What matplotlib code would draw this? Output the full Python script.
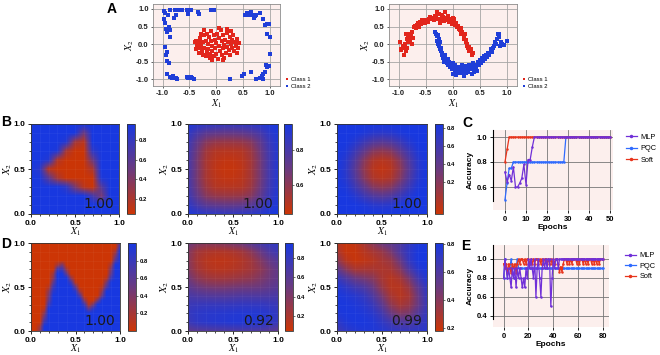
import numpy as np
import matplotlib
matplotlib.use('Agg')
import matplotlib.pyplot as plt
from matplotlib.colors import LinearSegmentedColormap, Normalize
from matplotlib.cm import ScalarMappable
from matplotlib.lines import Line2D
from matplotlib.ticker import MultipleLocator, FormatStrFormatter

plt.rcParams['font.family'] = ['Liberation Sans', 'DejaVu Sans']
plt.rcParams['mathtext.fontset'] = 'stix'
plt.rcParams['axes.unicode_minus'] = False

# ---------------- data ----------------
a1_class1 = [(-0.40, 0.05), (-0.38, 0.08), (-0.36, 0.03), (-0.35, -0.05), (-0.33, 0.10), (-0.30, -0.12),
             (-0.30, 0.18), (-0.28, 0.00), (-0.27, -0.20), (-0.25, 0.05), (-0.25, -0.30), (-0.23, 0.25),
             (-0.22, -0.10), (-0.20, 0.10), (-0.20, -0.35), (-0.18, -0.22), (-0.17, 0.30), (-0.15, 0.00),
             (-0.15, -0.15), (-0.13, 0.20), (-0.12, -0.28), (-0.12, -0.40), (-0.10, 0.38), (-0.10, 0.08),
             (-0.08, -0.05), (-0.07, -0.20), (-0.05, 0.25), (-0.05, -0.35), (-0.03, 0.12), (-0.02, -0.12),
             (0.00, 0.02), (0.00, -0.28), (0.02, 0.30), (0.03, -0.42), (0.05, 0.18), (0.05, -0.05),
             (0.07, -0.20), (0.08, 0.40), (0.10, 0.08), (0.10, -0.32), (0.12, -0.12), (0.13, 0.25),
             (0.15, -0.02), (0.15, -0.40), (0.17, 0.12), (0.18, -0.25), (0.20, 0.32), (0.20, -0.08),
             (0.22, 0.05), (0.23, -0.18), (0.25, 0.20), (0.26, -0.30), (0.28, 0.00), (0.30, 0.12),
             (0.30, -0.10), (0.32, 0.25), (0.33, -0.20), (0.35, 0.05), (0.36, -0.05), (0.38, 0.15),
             (0.40, -0.12), (0.42, 0.02), (-0.32, -0.25), (-0.22, 0.40), (0.05, 0.45), (0.20, 0.42),
             (0.28, 0.38), (-0.08, -0.45), (0.12, -0.46), (-0.38, -0.15), (0.38, -0.25), (-0.28, 0.30)]
a1_class2 = [(-0.97, 0.94), (-0.90, 0.84), (-0.86, 0.98), (-0.78, 0.75), (-0.75, 0.82), (-0.72, 0.96),
             (-0.69, 0.98), (-0.64, 0.96), (-0.55, 0.96), (-0.53, 0.86), (-0.48, 0.98), (-0.34, 0.91),
             (-0.33, 0.86), (-0.10, 0.96), (-0.06, 0.98), (-0.04, 0.98), (0.54, 0.82), (0.57, 0.88),
             (0.62, 0.84), (0.65, 0.91), (0.67, 0.82), (0.70, 0.75), (0.72, 0.79), (0.75, 0.82),
             (0.82, 0.88), (0.87, 0.72), (0.91, 0.53), (0.94, 0.56), (0.98, 0.58), (-0.97, 0.72),
             (-0.95, 0.60), (-0.93, 0.44), (-0.92, 0.34), (-0.88, 0.50), (-0.86, 0.39), (-0.87, 0.20),
             (-0.95, -0.09), (-0.92, -0.23), (-0.91, -0.48), (-0.88, -0.54), (-0.91, -0.84), (-0.86, -0.94),
             (-0.83, -0.96), (-0.80, -0.92), (-0.76, -0.97), (-0.73, -0.99), (-0.55, -0.94), (-0.52, -0.96),
             (-0.48, -0.94), (-0.45, -0.96), (-0.41, -1.00), (0.25, -1.00), (0.48, -0.92), (0.52, -0.84),
             (0.65, -0.80), (0.75, -0.99), (0.81, -0.96), (0.85, -0.92), (0.88, -0.99), (0.91, -0.80),
             (0.94, -0.65), (0.98, -0.61), (1.00, -0.27), (1.00, 0.20), (0.94, 0.29), (0.93, -0.58),
             (-0.77, 0.97), (-0.96, 0.88), (0.88, -0.84), (-0.93, -0.30)]
a2_class1 = [(-0.97, 0.05), (-0.96, -0.18), (-0.95, -0.15), (-0.93, -0.05), (-0.90, -0.30), (-0.90, -0.10),
             (-0.88, 0.00), (-0.87, -0.20), (-0.86, 0.30), (-0.85, 0.15), (-0.84, -0.12), (-0.83, 0.25),
             (-0.82, 0.05), (-0.80, 0.20), (-0.80, 0.28), (-0.79, 0.12), (-0.78, 0.30), (-0.77, 0.22),
             (-0.76, 0.00), (-0.75, 0.35), (-0.73, 0.18), (-0.72, 0.48), (-0.70, 0.52), (-0.68, 0.45),
             (-0.66, 0.55), (-0.64, 0.60), (-0.62, 0.50), (-0.60, 0.62), (-0.58, 0.58), (-0.55, 0.65),
             (-0.52, 0.60), (-0.50, 0.68), (-0.48, 0.66), (-0.46, 0.62), (-0.44, 0.72), (-0.42, 0.78),
             (-0.40, 0.70), (-0.38, 0.75), (-0.35, 0.68), (-0.33, 0.80), (-0.31, 0.78), (-0.29, 0.92),
             (-0.27, 0.72), (-0.25, 0.85), (-0.22, 0.70), (-0.20, 0.82), (-0.18, 0.78), (-0.16, 0.65),
             (-0.14, 0.75), (-0.12, 0.72), (-0.10, 0.68), (-0.08, 0.80), (-0.06, 0.62), (-0.04, 0.70),
             (-0.02, 0.58), (0.00, 0.66), (0.02, 0.70), (0.04, 0.55), (0.06, 0.60), (0.08, 0.48),
             (0.10, 0.52), (0.12, 0.42), (0.14, 0.40), (0.16, 0.30), (0.18, 0.35), (0.20, 0.22),
             (0.21, 0.15), (0.22, 0.28), (0.24, 0.05), (0.25, 0.12), (0.26, -0.05), (0.27, 0.00),
             (0.28, -0.12), (0.30, -0.08), (0.31, -0.20), (0.33, -0.15), (0.35, -0.30), (0.37, -0.25),
             (-0.57, 0.68), (-0.24, 0.60), (-0.15, 0.90), (0.00, 0.75), (0.15, 0.45)]
a2_class2 = [(-0.33, 0.35), (-0.31, 0.30), (-0.30, 0.22), (-0.29, 0.10), (-0.28, 0.25), (-0.27, 0.00),
             (-0.26, 0.15), (-0.25, -0.05), (-0.24, -0.15), (-0.23, 0.05), (-0.22, -0.20), (-0.21, -0.10),
             (-0.20, -0.30), (-0.19, -0.25), (-0.18, -0.40), (-0.17, -0.35), (-0.15, -0.45), (-0.14, -0.30),
             (-0.12, -0.50), (-0.10, -0.55), (-0.09, -0.42), (-0.08, -0.60), (-0.06, -0.52), (-0.05, -0.65),
             (-0.03, -0.58), (-0.02, -0.70), (0.00, -0.62), (0.01, -0.85), (0.02, -0.68), (0.04, -0.75),
             (0.05, -0.60), (0.06, -0.88), (0.08, -0.70), (0.10, -0.78), (0.12, -0.65), (0.13, -0.82),
             (0.15, -0.72), (0.17, -0.60), (0.18, -0.80), (0.20, -0.70), (0.22, -0.75), (0.24, -0.62),
             (0.25, -0.82), (0.27, -0.68), (0.28, -0.78), (0.30, -0.60), (0.32, -0.72), (0.34, -0.65),
             (0.35, -0.85), (0.37, -0.55), (0.38, -0.70), (0.40, -0.78), (0.42, -0.60), (0.44, -0.68),
             (0.46, -0.50), (0.48, -0.60), (0.50, -0.45), (0.52, -0.55), (0.54, -0.40), (0.56, -0.48),
             (0.58, -0.35), (0.60, -0.42), (0.62, -0.30), (0.64, -0.38), (0.66, -0.25), (0.68, -0.32),
             (0.70, -0.15), (0.72, -0.22), (0.74, -0.10), (0.76, -0.05), (0.78, 0.05), (0.80, 0.00),
             (0.82, 0.15), (0.84, 0.28), (0.85, 0.30), (0.86, 0.20), (0.88, -0.05), (0.90, 0.05),
             (0.92, 0.00), (0.95, -0.02), (1.00, 0.10), (-0.16, -0.50), (0.00, -0.55), (0.20, -0.90),
             (0.45, -0.75)]

# decision maps, rows from X2 = 1.0 (top) to 0.0 (bottom), columns X1 = 0.0 .. 1.0
b1_map = [
    [.97, .97, .97, .97, .97, .97, .97, .97, .97, .97, .97],
    [.97, .97, .97, .97, .97, .97, .50, .97, .97, .97, .97],
    [.97, .97, .97, .97, .90, .25, .13, .97, .97, .97, .97],
    [.97, .97, .97, .93, .22, .05, .05, .83, .97, .97, .97],
    [.97, .97, .90, .18, .05, .05, .05, .50, .97, .97, .97],
    [.97, .87, .15, .05, .05, .05, .05, .20, .97, .97, .97],
    [.97, .95, .60, .22, .05, .05, .05, .05, .93, .97, .97],
    [.97, .97, .97, .97, .85, .45, .13, .05, .62, .97, .97],
    [.97, .97, .97, .97, .97, .97, .97, .73, .45, .97, .97],
    [.97, .97, .97, .97, .97, .97, .97, .97, .97, .97, .97],
    [.97, .97, .97, .97, .97, .97, .97, .97, .97, .97, .97]]
b2_map = [
    [.93, .90, .88, .87, .86, .86, .87, .88, .90, .93, .95],
    [.88, .80, .74, .72, .71, .71, .72, .75, .80, .88, .93],
    [.84, .72, .62, .58, .57, .57, .58, .62, .72, .84, .92],
    [.82, .68, .55, .50, .49, .49, .50, .56, .68, .82, .91],
    [.81, .66, .53, .48, .46, .46, .48, .54, .66, .81, .91],
    [.81, .66, .53, .47, .45, .45, .47, .54, .66, .81, .91],
    [.81, .66, .53, .48, .46, .46, .48, .54, .66, .81, .91],
    [.82, .68, .56, .50, .49, .49, .50, .56, .68, .82, .91],
    [.84, .72, .62, .58, .57, .57, .58, .62, .72, .84, .92],
    [.88, .80, .74, .72, .71, .71, .72, .75, .80, .88, .93],
    [.93, .90, .88, .87, .86, .86, .87, .88, .90, .93, .95]]
b3_map = [
    [.84, .84, .84, .84, .84, .84, .84, .84, .84, .84, .84],
    [.84, .84, .84, .80, .74, .72, .74, .80, .84, .84, .84],
    [.84, .84, .76, .62, .50, .45, .50, .62, .76, .84, .84],
    [.84, .80, .62, .41, .21, .15, .21, .41, .62, .80, .84],
    [.84, .74, .50, .21, .00, -.05, .00, .21, .50, .74, .84],
    [.84, .72, .45, .15, -.05, -.10, -.05, .15, .45, .72, .84],
    [.84, .74, .50, .21, .00, -.05, .00, .21, .50, .74, .84],
    [.84, .80, .62, .41, .21, .15, .21, .41, .62, .80, .84],
    [.84, .84, .76, .62, .50, .45, .50, .62, .76, .84, .84],
    [.84, .84, .84, .80, .74, .72, .74, .80, .84, .84, .84],
    [.84, .84, .84, .84, .84, .84, .84, .84, .84, .84, .84]]
# D1 on a finer 0.05 grid, digit 0 = red class ... 9 = blue class
d1_rows = [
    "000000000000000000005",
    "000000000000000000007",
    "000000000000000000029",
    "000000000000000000049",
    "000000000000000000069",
    "000000240000000000299",
    "000000772000000000499",
    "000002995000000000599",
    "000003999300000001799",
    "000005999710000004999",
    "000017999950000016999",
    "000038999982000039999",
    "000049999996000059999",
    "000059999999300499999",
    "000079999999714999999",
    "000199999999958999999",
    "000399999999999999999",
    "000599999999999999999",
    "000799999999999999999",
    "002999999999999999999",
    "003999999999999999999"]
d2_map = [
    [.50, .42, .38, .38, .40, .45, .50, .60, .70, .78, .82],
    [.40, .25, .20, .18, .18, .20, .25, .35, .50, .65, .75],
    [.38, .22, .15, .12, .12, .14, .18, .25, .38, .52, .62],
    [.40, .25, .18, .15, .15, .17, .20, .25, .33, .45, .55],
    [.48, .35, .28, .25, .25, .27, .30, .33, .40, .48, .55],
    [.58, .50, .45, .43, .43, .45, .47, .48, .50, .55, .60],
    [.68, .65, .63, .62, .62, .63, .65, .65, .65, .66, .68],
    [.75, .77, .78, .78, .78, .79, .80, .80, .80, .78, .76],
    [.78, .83, .85, .86, .87, .88, .89, .89, .88, .85, .80],
    [.75, .82, .85, .87, .88, .90, .90, .90, .88, .84, .78],
    [.55, .60, .62, .64, .65, .66, .67, .66, .64, .60, .55]]
d3_map = [
    [.25, .20, .22, .30, .40, .50, .55, .60, .70, .78, .80],
    [.30, .20, .20, .25, .30, .35, .45, .60, .72, .80, .81],
    [.40, .25, .20, .22, .25, .30, .35, .50, .70, .80, .81],
    [.55, .40, .30, .30, .30, .28, .30, .40, .60, .75, .80],
    [.70, .60, .50, .45, .40, .30, .25, .30, .45, .65, .78],
    [.78, .72, .65, .60, .50, .35, .25, .25, .35, .55, .72],
    [.80, .78, .75, .70, .60, .45, .30, .25, .30, .50, .70],
    [.80, .80, .78, .75, .68, .55, .38, .30, .35, .50, .68],
    [.78, .80, .80, .78, .74, .65, .50, .42, .45, .58, .70],
    [.72, .78, .80, .80, .78, .72, .65, .60, .60, .66, .72],
    [.65, .72, .76, .78, .78, .76, .72, .70, .70, .72, .74]]
map_accuracy = ["1.00", "1.00", "1.00", "1.00", "0.92", "0.99"]

# training curves
c_epochs = list(range(51))
c_mlp = [0.72, 0.64, 0.70, 0.65, 0.76, 0.60, 0.60, 0.63, 0.67, 0.78, 0.62, 0.82, 0.82, 0.92,
         1.0, 1.0, 1.0, 1.0, 1.0, 1.0, 1.0, 1.0, 1.0, 1.0, 1.0, 1.0, 1.0, 1.0, 1.0, 1.0,
         1.0, 1.0, 1.0, 1.0, 1.0, 1.0, 1.0, 1.0, 1.0, 1.0, 1.0, 1.0, 1.0, 1.0, 1.0, 1.0,
         1.0, 1.0, 1.0, 1.0, 1.0]
c_pqc = [0.50, 0.63, 0.75, 0.75,
         0.8, 0.8, 0.8, 0.8, 0.8, 0.8, 0.8, 0.8, 0.8, 0.8, 0.8, 0.8, 0.8, 0.8, 0.8, 0.8,
         0.8, 0.8, 0.8, 0.8, 0.8, 0.8, 0.8, 0.8, 0.8,
         1.0, 1.0, 1.0, 1.0, 1.0, 1.0, 1.0, 1.0, 1.0, 1.0, 1.0, 1.0, 1.0, 1.0, 1.0, 1.0,
         1.0, 1.0, 1.0, 1.0, 1.0, 1.0]
c_soft = [0.80, 0.90,
          1.0, 1.0, 1.0, 1.0, 1.0, 1.0, 1.0, 1.0, 1.0, 1.0, 1.0, 1.0, 1.0, 1.0, 1.0, 1.0,
          1.0, 1.0, 1.0, 1.0, 1.0, 1.0, 1.0, 1.0, 1.0, 1.0, 1.0, 1.0, 1.0, 1.0, 1.0, 1.0,
          1.0, 1.0, 1.0, 1.0, 1.0, 1.0, 1.0, 1.0, 1.0, 1.0, 1.0, 1.0, 1.0, 1.0, 1.0, 1.0, 1.0]
e_epochs = list(range(81))
e_mlp = [0.8, 1.0, 0.9, 0.8, 0.9, 0.8, 0.7, 0.9, 0.8, 0.9, 0.7, 0.9, 0.8, 0.9, 0.8, 0.7,
         0.8, 0.7, 0.9, 0.8, 1.0, 0.9, 1.0, 0.9, 0.8, 1.0, 0.6, 0.9, 1.0, 0.8, 0.6, 0.9,
         1.0, 0.9, 1.0, 0.9, 1.0, 1.0, 0.5, 0.8, 1.0, 0.9, 1.0, 1.0, 0.9,
         1.0, 1.0, 1.0, 1.0, 1.0, 1.0, 1.0, 1.0, 1.0, 1.0, 1.0, 1.0, 1.0, 1.0, 1.0, 1.0,
         1.0, 1.0, 1.0, 1.0, 1.0, 1.0, 1.0, 1.0, 1.0, 1.0, 1.0, 1.0, 1.0, 1.0, 1.0, 1.0,
         1.0, 1.0, 1.0, 1.0]
e_pqc = [0.8, 1.0, 0.9, 0.8, 0.9, 0.9, 1.0, 0.9, 0.8, 0.9, 0.9, 1.0,
         0.9, 0.9, 0.9, 0.9, 0.9, 0.9, 0.9, 0.9, 0.9, 0.9, 0.9, 0.9, 0.9, 0.9, 0.9, 0.9,
         0.9, 0.9, 0.9, 0.9, 0.9, 0.9, 0.9, 0.9, 0.9, 0.9, 0.9, 0.9, 0.9, 0.9, 0.9, 0.9,
         0.9, 0.9, 0.9, 0.9, 0.9, 0.9, 0.9, 0.9, 0.9, 0.9, 0.9, 0.9, 0.9, 0.9, 0.9, 0.9,
         0.9, 0.9, 0.9, 0.9, 0.9, 0.9, 0.9, 0.9, 0.9, 0.9, 0.9, 0.9, 0.9, 0.9, 0.9, 0.9,
         0.9, 0.9, 0.9, 0.9, 0.9]
e_soft = [0.95, 0.90, 0.95, 0.85, 0.95, 0.90, 0.85, 0.95, 0.90, 0.95, 0.85, 0.95, 1.0, 0.95,
          1.0, 1.0, 0.95, 1.0, 0.95, 1.0, 1.0, 0.95, 1.0, 0.95, 1.0, 0.95, 1.0, 1.0, 0.95,
          1.0, 0.95, 1.0, 0.95, 1.0, 1.0, 0.95, 1.0, 0.95, 1.0, 0.95, 1.0, 0.95, 1.0, 1.0,
          0.95, 0.86, 0.92, 0.86, 0.95, 1.0, 1.0, 0.95, 1.0, 0.95, 1.0, 0.95, 1.0, 1.0, 1.0,
          0.95, 1.0, 0.95, 1.0, 1.0, 0.95, 1.0, 0.95, 1.0, 0.95, 1.0, 1.0, 0.95, 1.0, 0.95,
          1.0, 0.95, 1.0, 0.95, 1.0, 1.0, 1.0]
series_names = ["MLP", "PQC", "Soft"]

# ---------------- style ----------------
PINK = '#fcefed'
RED = '#e2261c'
BLUE = '#1f3ed8'
LINE_COLORS = {'MLP': '#7030d8', 'PQC': '#2f6bff', 'Soft': '#e8341c'}
CMAP = LinearSegmentedColormap.from_list('rb', ['#cc3505', '#6a3a80', '#1838e0'])

W, H = 660, 355
fig = plt.figure(figsize=(6.6, 3.55), dpi=100)


def rect(x0, y0, x1, y1):
    return [x0 / W, 1 - y1 / H, (x1 - x0) / W, (y1 - y0) / H]


def bold_ticks(ax, size):
    for lab in ax.get_xticklabels() + ax.get_yticklabels():
        lab.set_fontweight('bold')
        lab.set_fontsize(size)


def scatter_panel(box, c1, c2):
    ax = fig.add_axes(rect(*box))
    ax.set_facecolor(PINK)
    p1 = np.array(c1).T
    p2 = np.array(c2).T
    ax.scatter(p1[0], p1[1], s=6, c=RED, marker='s', lw=0, label='Class 1', zorder=3)
    ax.scatter(p2[0], p2[1], s=6, c=BLUE, marker='s', lw=0, label='Class 2', zorder=3)
    ax.set_xlim(-1.18, 1.19)
    ax.set_ylim(-1.19, 1.14)
    t = [-1.0, -0.5, 0.0, 0.5, 1.0]
    ax.set_xticks(t)
    ax.set_yticks(t)
    ax.xaxis.set_major_formatter(FormatStrFormatter('%.1f'))
    ax.yaxis.set_major_formatter(FormatStrFormatter('%.1f'))
    ax.grid(color='#a5a5a5', lw=0.6)
    ax.set_axisbelow(True)
    for s in ax.spines.values():
        s.set_color('#8c8c8c')
        s.set_linewidth(0.6)
    ax.tick_params(length=1.5, width=0.5, pad=1.5, colors='#222222')
    bold_ticks(ax, 5.5)
    ax.set_xlabel('$X_1$', fontsize=7, labelpad=0)
    ax.set_ylabel('$X_2$', fontsize=7, labelpad=0)
    ax.legend(loc='lower left', bbox_to_anchor=(1.01, -0.06), fontsize=4.2, frameon=False,
              handletextpad=0.2, handlelength=1.0, labelspacing=0.3, borderaxespad=0,
              markerscale=0.8)
    return ax


def heat_panel(box, cbox, grid, vmin, vmax, cticks, acc):
    ax = fig.add_axes(rect(*box))
    g = np.array(grid, dtype=float)
    n = g.shape[0]
    h = 0.5 / (n - 1)
    norm = Normalize(vmin, vmax)
    ax.imshow(g, cmap=CMAP, norm=norm, origin='upper', extent=[-h, 1 + h, -h, 1 + h],
              interpolation='bilinear', aspect='auto')
    ax.set_xlim(0, 1)
    ax.set_ylim(0, 1)
    ax.set_xticks([0, 0.5, 1.0])
    ax.set_yticks([0, 0.5, 1.0])
    ax.xaxis.set_minor_locator(MultipleLocator(0.1))
    ax.yaxis.set_minor_locator(MultipleLocator(0.1))
    ax.xaxis.set_major_formatter(FormatStrFormatter('%.1f'))
    ax.yaxis.set_major_formatter(FormatStrFormatter('%.1f'))
    ax.grid(which='both', color='white', alpha=0.05, lw=0.5)
    ax.tick_params(which='major', length=2.5, width=0.6, pad=1.5)
    ax.tick_params(which='minor', length=1.5, width=0.5)
    for s in ax.spines.values():
        s.set_linewidth(0.6)
        s.set_color('#333333')
    bold_ticks(ax, 6)
    ax.set_xlabel('$X_1$', fontsize=7, labelpad=-0.5)
    ax.set_ylabel('$X_2$', fontsize=7.5, labelpad=0)
    ax.text(0.95, 0.07, acc, transform=ax.transAxes, ha='right', va='baseline',
            fontsize=10, color='#1a1a1a', family='DejaVu Sans')
    cax = fig.add_axes(rect(*cbox))
    cb = fig.colorbar(ScalarMappable(norm=norm, cmap=CMAP), cax=cax, ticks=cticks)
    cb.outline.set_linewidth(0.6)
    cb.outline.set_edgecolor('#333333')
    cax.tick_params(length=1.5, width=0.4, pad=1)
    for lab in cax.get_yticklabels():
        lab.set_fontsize(4.2)
        lab.set_fontweight('bold')
    return ax


def acc_panel(box, epochs, data, xlim, ylim, xticks, yticks, ybound, leg_anchor, spacing):
    ax = fig.add_axes(rect(*box))
    ax.set_facecolor(PINK)
    ep = np.array(epochs)
    for name, z in (("PQC", 2), ("Soft", 3), ("MLP", 4)):
        ax.plot(ep, data[name], color=LINE_COLORS[name], lw=0.9, marker='o', ms=0.8, zorder=z)
    ax.set_xlim(*xlim)
    ax.set_ylim(*ylim)
    ax.set_xticks(xticks)
    ax.set_yticks(yticks)
    ax.yaxis.set_major_formatter(FormatStrFormatter('%.1f'))
    ax.grid(color='#777777', lw=0.6)
    ax.set_axisbelow(True)
    for k in ('top', 'right', 'bottom'):
        ax.spines[k].set_visible(False)
    ax.spines['left'].set_bounds(*ybound)
    ax.spines['left'].set_linewidth(0.8)
    ax.tick_params(length=2.5, width=0.6, pad=1.5)
    bold_ticks(ax, 5.5)
    ax.set_xlabel('Epochs', fontsize=6, fontweight='bold', labelpad=1)
    ax.set_ylabel('Accuracy', fontsize=6, fontweight='bold', labelpad=2)
    handles = [Line2D([], [], color=LINE_COLORS[n], lw=0.9, marker='o', ms=1.5) for n in series_names]
    ax.legend(handles, series_names, loc='upper left', bbox_to_anchor=leg_anchor, fontsize=5.3,
              frameon=False, handlelength=1.5, handletextpad=0.5, labelspacing=spacing,
              borderaxespad=0)
    return ax


# ---------------- panels ----------------
scatter_panel((153, 4, 280, 86), a1_class1, a1_class2)
scatter_panel((389, 4, 517, 86), a2_class1, a2_class2)

heat_panel((31, 124, 119, 214), (127, 124, 135, 214), b1_map, 0.04, 0.97, [0.2, 0.4, 0.6, 0.8], map_accuracy[0])
heat_panel((188, 124, 278, 214), (284, 124, 292, 214), b2_map, 0.43, 0.95, [0.6, 0.8], map_accuracy[1])
heat_panel((337, 124, 427, 214), (435, 124, 443, 214), b3_map, -0.16, 0.84, [0.2, 0.4, 0.6, 0.8], map_accuracy[2])

d1_map = [[int(ch) / 9 for ch in row] for row in d1_rows]
heat_panel((31, 243, 120, 331), (128, 243, 136, 331), d1_map, 0.0, 1.0, [0.2, 0.4, 0.6, 0.8], map_accuracy[3])
heat_panel((188, 243, 278, 331), (285, 243, 293, 331), d2_map, 0.05, 0.95, [0.2, 0.4, 0.6, 0.8], map_accuracy[4])
heat_panel((337, 243, 427, 331), (435, 243, 443, 331), d3_map, 0.18, 0.81, [0.2, 0.4, 0.6, 0.8], map_accuracy[5])

acc_panel((493, 130, 613, 210), c_epochs, {"MLP": c_mlp, "PQC": c_pqc, "Soft": c_soft},
          (-5.7, 51.4), (0.416, 1.056), [0, 10, 20, 30, 40, 50], [0.6, 0.8, 1.0], (0.49, 1.056),
          (1.08, 0.99), 0.6)
acc_panel((493, 245, 609, 327), e_epochs, {"MLP": e_mlp, "PQC": e_pqc, "Soft": e_soft},
          (-8.6, 84.9), (0.284, 1.147), [0, 20, 40, 60, 80], [0.4, 0.6, 0.8, 1.0], (0.37, 1.147),
          (1.11, 0.95), 0.45)

for lab, x, y in (('A', 107, 2), ('B', 1, 115), ('C', 462, 116), ('D', 1, 237), ('E', 461, 239)):
    fig.text(x / W, 1 - y / H, lab, fontsize=10, fontweight='bold', va='top', ha='left')

fig.savefig('out.png', dpi=100)
